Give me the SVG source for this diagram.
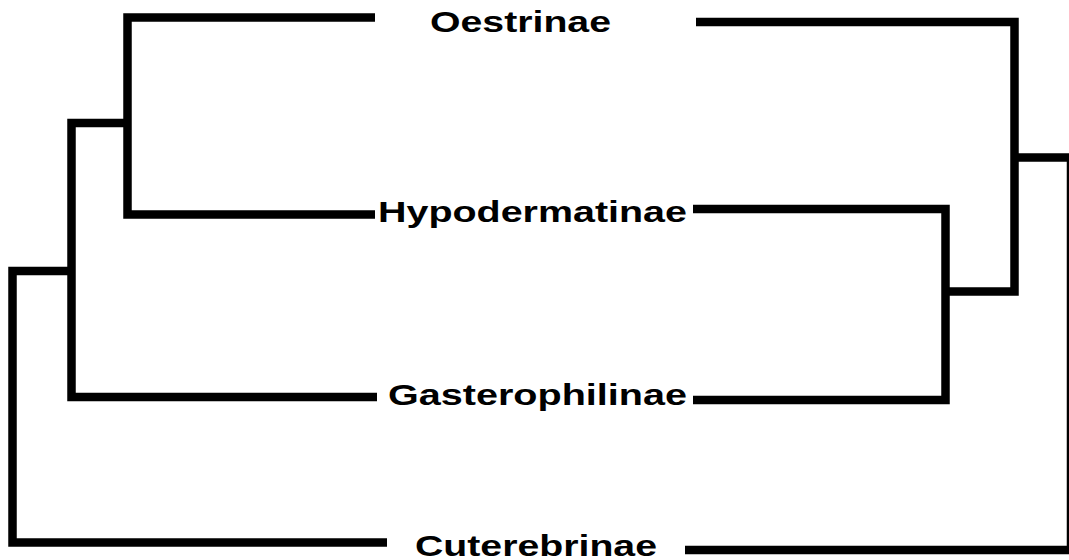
<svg xmlns="http://www.w3.org/2000/svg" width="1069" height="560" viewBox="0 0 1069 560">
<style>
.edge{fill:none;stroke:#000;stroke-width:8.5;stroke-linejoin:miter;stroke-linecap:butt}
.lbl{font-family:"Liberation Sans",Arial,sans-serif;font-weight:bold;font-size:30px;fill:#000}
</style>
<rect width="1069" height="560" fill="#fff"/>
<g id="connectors">
<path class="edge" d="M375 17.5 H127.5 V214.5 H375"/>
<path class="edge" d="M127.5 123 H71.5 V397 H377"/>
<path class="edge" d="M71.5 271 H12.5 V542.5 H387"/>
<path class="edge" d="M696 22 H1014.5 V291.5 H945.5"/>
<path class="edge" d="M693 209 H945.5 V400 H693"/>
<path class="edge" d="M1014.5 157.5 H1071 V550 H685"/>
</g>
<g id="node-oestrinae"><text class="lbl" x="430" y="32" textLength="181" lengthAdjust="spacingAndGlyphs">Oestrinae</text></g>
<g id="node-hypodermatinae"><text class="lbl" x="378" y="222" textLength="309" lengthAdjust="spacingAndGlyphs">Hypodermatinae</text></g>
<g id="node-gasterophilinae"><text class="lbl" x="388" y="405" textLength="299" lengthAdjust="spacingAndGlyphs">Gasterophilinae</text></g>
<g id="node-cuterebrinae"><text class="lbl" x="415" y="556" textLength="242" lengthAdjust="spacingAndGlyphs">Cuterebrinae</text></g>
</svg>
